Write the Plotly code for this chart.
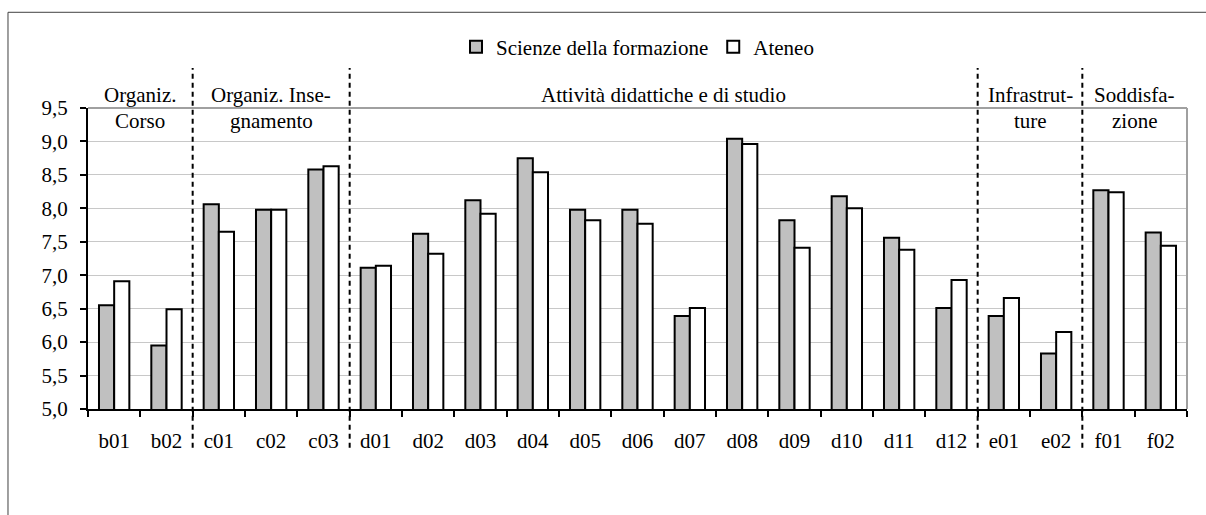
import plotly.graph_objects as go

categories = ["b01", "b02", "c01", "c02", "c03", "d01", "d02", "d03", "d04", "d05", "d06",
              "d07", "d08", "d09", "d10", "d11", "d12", "e01", "e02", "f01", "f02"]
scienze = [6.55, 5.95, 8.06, 7.98, 8.58, 7.11, 7.62, 8.12, 8.75, 7.98, 7.98,
           6.39, 9.04, 7.82, 8.18, 7.56, 6.51, 6.39, 5.83, 8.27, 7.64]
ateneo = [6.91, 6.49, 7.65, 7.98, 8.63, 7.14, 7.32, 7.92, 8.54, 7.82, 7.77,
          6.51, 8.96, 7.41, 8.00, 7.38, 6.93, 6.66, 6.15, 8.24, 7.44]
series_names = ["Scienze della formazione", "Ateneo"]

# sections: (first category index, last category index, label lines)
sections = [
    (0, 1, ["Organiz.", "Corso"]),
    (2, 4, ["Organiz. Inse-", "gnamento"]),
    (5, 16, ["Attività didattiche e di studio"]),
    (17, 18, ["Infrastrut-", "ture"]),
    (19, 20, ["Soddisfa-", "zione"]),
]
y_ticks = [5.0, 5.5, 6.0, 6.5, 7.0, 7.5, 8.0, 8.5, 9.0, 9.5]

FONT = "'Liberation Serif', 'Times New Roman', Times, serif"
FS = 21
n = len(categories)

fig = go.Figure()
fig.add_trace(go.Bar(x=categories, y=scienze, name=series_names[0],
                     marker=dict(color="#c0c0c0", line=dict(color="black", width=2))))
fig.add_trace(go.Bar(x=categories, y=ateneo, name=series_names[1],
                     marker=dict(color="white", line=dict(color="black", width=2))))

shapes = []
# outer frame
shapes.append(dict(type="rect", xref="paper", yref="paper", x0=-0.0728, x1=1.2,
                   y0=-1.0, y1=1.318, line=dict(color="#404040", width=1), layer="below"))
# top and right plot border (gray)
shapes.append(dict(type="line", xref="paper", yref="paper", x0=0, x1=1, y0=1, y1=1,
                   line=dict(color="#a0a0a0", width=2)))
shapes.append(dict(type="line", xref="paper", yref="paper", x0=1, x1=1, y0=0, y1=1,
                   line=dict(color="#a0a0a0", width=2)))
# dashed section separators
for s in sections[1:]:
    xp = s[0] / n
    shapes.append(dict(type="line", xref="paper", yref="paper", x0=xp, x1=xp,
                       y0=-0.129, y1=1.133, line=dict(color="black", width=2, dash="5px,4px")))

annotations = []
for first, last, lines in sections:
    xc = (first + last) / 2
    ys = [1.043, 0.957] if len(lines) == 2 else [1.043]
    for txt, yy in zip(lines, ys):
        annotations.append(dict(x=xc, xref="x", y=yy, yref="paper", text=txt,
                                showarrow=False, xanchor="center", yanchor="middle",
                                font=dict(family=FONT, size=FS, color="black")))

fig.update_layout(
    width=1206, height=515,
    margin=dict(l=88, r=19, t=108, b=106),
    paper_bgcolor="white", plot_bgcolor="white",
    barmode="group", bargap=0.42, bargroupgap=0,
    separators=",.",
    font=dict(family=FONT, size=FS, color="black"),
    showlegend=True,
    legend=dict(orientation="h", x=0.5, xanchor="center", y=1.202, yanchor="middle",
                font=dict(family=FONT, size=FS), itemwidth=30, traceorder="normal",
                bgcolor="rgba(0,0,0,0)"),
    xaxis=dict(type="category", range=[-0.5, n - 0.5], tickson="boundaries",
               ticks="outside", ticklen=6, tickcolor="black", tickwidth=2,
               showline=True, linecolor="black", linewidth=2, showgrid=False,
               tickfont=dict(family=FONT, size=FS), ticklabelstandoff=12),
    yaxis=dict(range=[5.0, 9.5], tickvals=y_ticks, tickformat=".1f",
               ticks="outside", ticklen=6, tickcolor="black", tickwidth=2,
               showline=True, linecolor="black", linewidth=2,
               showgrid=True, gridcolor="#c8c8c8", gridwidth=1, zeroline=False,
               tickfont=dict(family=FONT, size=FS), ticklabelstandoff=8),
    shapes=shapes, annotations=annotations,
)

fig.write_html("out.html", config={"displayModeBar": False},
               post_script="document.body.style.margin='0';document.body.style.overflow='hidden';")
